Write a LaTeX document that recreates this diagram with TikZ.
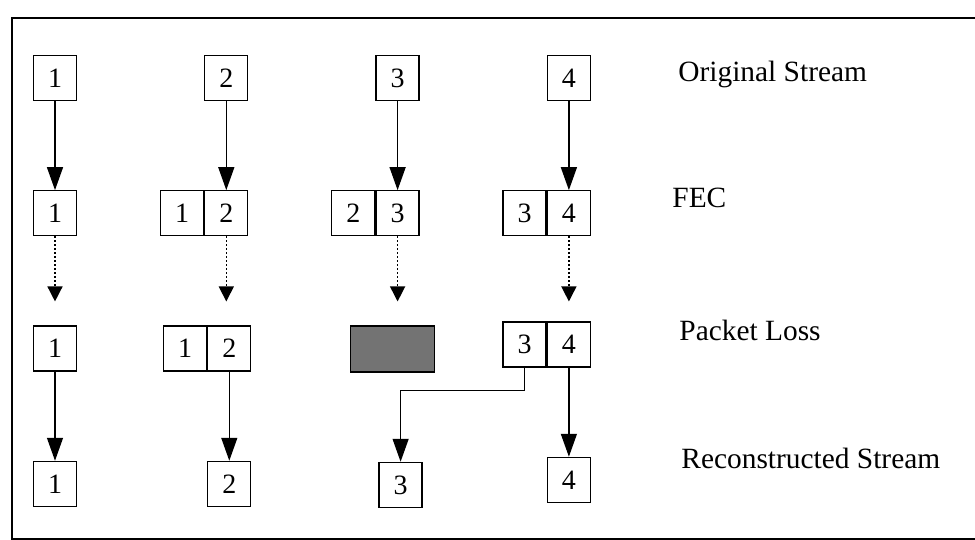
\documentclass[tikz,border=0pt]{standalone}
\usepackage{fontspec}
\setmainfont{Liberation Serif}
\usetikzlibrary{arrows.meta,positioning}

\begin{document}
\begin{tikzpicture}[
x=0.5pt, y=-0.5pt,
node distance=44.5pt and 63.5pt,
pkt/.style={rectangle, draw, line width=0.65pt, minimum width=21.5pt, minimum height=22.5pt, inner sep=0pt, font=\fontsize{14}{16}\selectfont},
lost/.style={rectangle, draw, line width=0.65pt, fill=black!55, minimum width=42pt, minimum height=23pt, inner sep=0pt},
flow/.style={line width=0.7pt, -{Triangle[length=11.5pt,width=8pt]}},
fec/.style={line width=0.7pt, dash pattern=on 0.8pt off 1.2pt, -{Triangle[length=7.5pt,width=7.5pt]}},
rowname/.style={anchor=base west, inner sep=0pt, font=\fontsize{14.7}{17}\selectfont},
frame/.style={line width=1pt},
]
\useasboundingbox (0,0) rectangle (975,540);

% Rahmen
\draw[frame] (980,18) -- (12,18) -- (12,539) -- (980,539);

% Original Stream
\node[pkt] at (55,78) (o1) {1};
\node[pkt, right=of o1] (o2) {2};
\node[pkt, right=of o2] (o3) {3};
\node[pkt, right=of o3] (o4) {4};

% FEC
\node[pkt, below=of o1] (f1) {1};
\node[pkt, below=of o2] (f2) {2};
\node[pkt, left=0pt of f2] (f2a) {1};
\node[pkt, below=of o3] (f3) {3};
\node[pkt, left=0pt of f3] (f3a) {2};
\node[pkt, below=of o4] (f4) {4};
\node[pkt, left=0pt of f4] (f4a) {3};

% Packet Loss
\node[pkt, below=of f1] (p1) {1};
\node[pkt, below=of f2, xshift=1.5pt] (p2) {2};
\node[pkt, left=0pt of p2] (p2a) {1};
\node[lost, below=of f3, xshift=-2.5pt] (gone) {};
\node[pkt, below=of f4, yshift=2pt] (p4) {4};
\node[pkt, left=0pt of p4] (p4a) {3};

% Reconstructed Stream
\node[pkt, below=of p1] (r1) {1};
\node[pkt, below=of p2] (r2) {2};
\node[pkt, below=of gone, xshift=4pt] (r3) {3};
\node[pkt, below=of p4] (r4) {4};

% Beschriftung
\node[rowname] at (678,82) (lorig) {Original Stream};
\node[rowname] at (672,207) (lfec) {FEC};
\node[rowname] at (679,340) (lloss) {Packet Loss};
\node[rowname] at (681,468) (lrec) {Reconstructed Stream};

% Pfeile
\draw[flow] (o1) -- (f1);
\draw[flow] (o2) -- (f2);
\draw[flow] (o3) -- (f3);
\draw[flow] (o4) -- (f4);

\coordinate (d1) at ([yshift=-32.5pt]f1.south);
\coordinate (d2) at ([yshift=-32.5pt]f2.south);
\coordinate (d3) at ([yshift=-32.5pt]f3.south);
\coordinate (d4) at ([yshift=-32.5pt]f4.south);
\draw[fec] (f1) -- (d1);
\draw[fec] (f2) -- (d2);
\draw[fec] (f3) -- (d3);
\draw[fec] (f4) -- (d4);

\draw[flow] (p1) -- (r1);
\draw[flow] (p2) -- (r2);
\draw[flow] (p4a.south) -- ++(0,23) -| (r3.north);
\draw[flow] (p4) -- (r4);

\end{tikzpicture}
\end{document}
